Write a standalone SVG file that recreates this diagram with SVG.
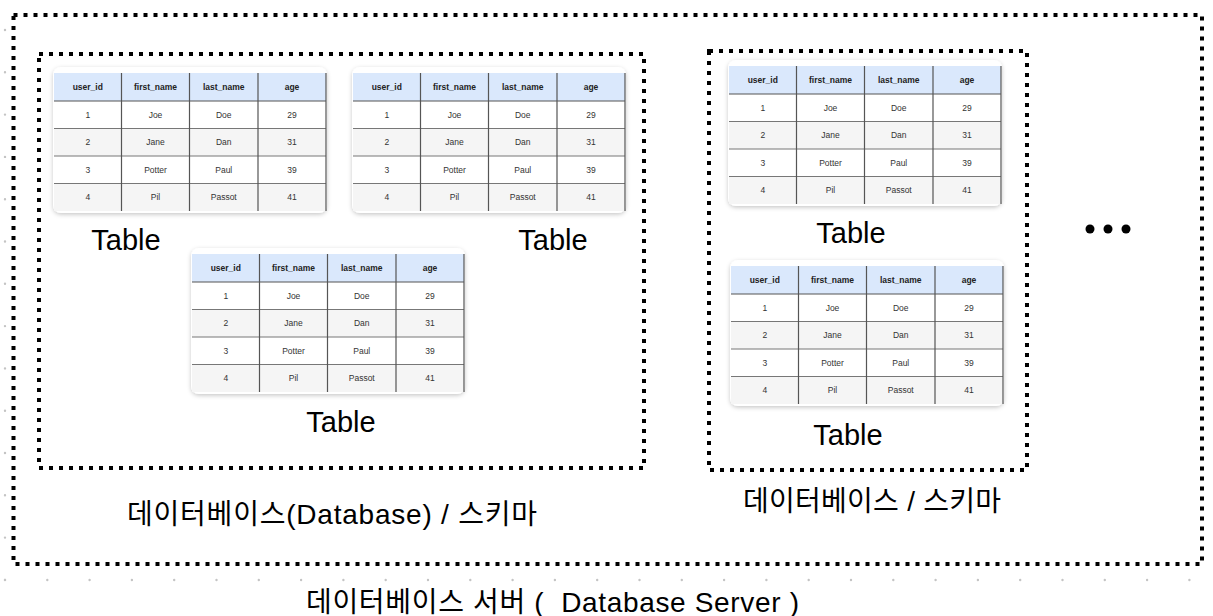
<svg xmlns="http://www.w3.org/2000/svg" width="1213" height="616" viewBox="0 0 1213 616">
<defs>
<filter id="sh" x="-10%" y="-15%" width="120%" height="135%">
<feDropShadow dx="0" dy="1.5" stdDeviation="2" flood-color="#000" flood-opacity="0.22"/>
</filter>
<style>
.grid-dot{fill:none;stroke:#c4c4c4;stroke-width:2.4;stroke-linecap:round;stroke-dasharray:0 42.3}
.box{fill:none;stroke:#000;stroke-width:4;stroke-dasharray:4 6}
.card{fill:#fff;filter:url(#sh)}
.hdr{fill:#dae8fc}
.alt{fill:#f5f5f5}
.gl{fill:none;stroke:#555;stroke-width:1.2}
.gr{fill:none;stroke:#777;stroke-width:1}
.h{font-family:"Liberation Sans",Arial,sans-serif;font-size:8.5px;font-weight:bold;fill:#222;text-anchor:middle}
.c{font-family:"Liberation Sans",Arial,sans-serif;font-size:8.5px;fill:#333;text-anchor:middle}
.lbl{font-family:"Liberation Sans",Arial,sans-serif;font-size:29px;fill:#000;text-anchor:middle}
.kr{font-family:"Liberation Sans","Noto Sans CJK KR",sans-serif;font-size:28px;fill:#000}
</style>
</defs>
<rect width="1213" height="616" fill="#fff"/>
<g id="background-grid">
<path class="grid-dot" d="M5 30V581"/>
<path class="grid-dot" d="M5 580H1213"/>
</g>
<g id="server">
<rect class="box" x="13.5" y="15" width="1188.5" height="549"/>
<text class="kr" x="306" y="612" textLength="493" xml:space="preserve">데이터베이스 서버 (  Database Server )</text>
</g>
<g id="database1">
<rect class="box" x="39" y="54" width="605" height="414"/>
<text class="kr" x="127" y="524" textLength="410">데이터베이스(Database) / 스키마</text>
</g>
<g id="database2">
<rect class="box" x="709" y="51" width="318" height="419"/>
<text class="kr" x="743" y="511" textLength="258">데이터베이스 / 스키마</text>
</g>

<g id="table1" transform="translate(54,73)">
<rect class="card" x="-1" y="-6" width="274" height="146" rx="8"/>
<rect class="hdr" x="0" y="0" width="272" height="28"/>
<rect class="alt" x="0" y="55.5" width="272" height="27.5"/>
<rect class="alt" x="0" y="110.5" width="272" height="27.5"/>
<path class="gr" d="M0 55.5H272M0 83H272M0 110.5H272"/>
<path class="gl" d="M0 28H272M67.5 0V138M135.5 0V138M204 0V138M272 0V138"/>
<text class="h" x="33.75" y="17">user_id</text><text class="h" x="101.5" y="17">first_name</text><text class="h" x="169.75" y="17">last_name</text><text class="h" x="238" y="17">age</text>
<text class="c" x="33.75" y="44.75">1</text><text class="c" x="101.5" y="44.75">Joe</text><text class="c" x="169.75" y="44.75">Doe</text><text class="c" x="238" y="44.75">29</text>
<text class="c" x="33.75" y="72.25">2</text><text class="c" x="101.5" y="72.25">Jane</text><text class="c" x="169.75" y="72.25">Dan</text><text class="c" x="238" y="72.25">31</text>
<text class="c" x="33.75" y="99.75">3</text><text class="c" x="101.5" y="99.75">Potter</text><text class="c" x="169.75" y="99.75">Paul</text><text class="c" x="238" y="99.75">39</text>
<text class="c" x="33.75" y="127.25">4</text><text class="c" x="101.5" y="127.25">Pil</text><text class="c" x="169.75" y="127.25">Passot</text><text class="c" x="238" y="127.25">41</text>
<text class="lbl" x="72" y="177">Table</text>
</g>

<g id="table2" transform="translate(353,73)">
<rect class="card" x="-1" y="-6" width="274" height="146" rx="8"/>
<rect class="hdr" x="0" y="0" width="272" height="28"/>
<rect class="alt" x="0" y="55.5" width="272" height="27.5"/>
<rect class="alt" x="0" y="110.5" width="272" height="27.5"/>
<path class="gr" d="M0 55.5H272M0 83H272M0 110.5H272"/>
<path class="gl" d="M0 28H272M67.5 0V138M135.5 0V138M204 0V138M272 0V138"/>
<text class="h" x="33.75" y="17">user_id</text><text class="h" x="101.5" y="17">first_name</text><text class="h" x="169.75" y="17">last_name</text><text class="h" x="238" y="17">age</text>
<text class="c" x="33.75" y="44.75">1</text><text class="c" x="101.5" y="44.75">Joe</text><text class="c" x="169.75" y="44.75">Doe</text><text class="c" x="238" y="44.75">29</text>
<text class="c" x="33.75" y="72.25">2</text><text class="c" x="101.5" y="72.25">Jane</text><text class="c" x="169.75" y="72.25">Dan</text><text class="c" x="238" y="72.25">31</text>
<text class="c" x="33.75" y="99.75">3</text><text class="c" x="101.5" y="99.75">Potter</text><text class="c" x="169.75" y="99.75">Paul</text><text class="c" x="238" y="99.75">39</text>
<text class="c" x="33.75" y="127.25">4</text><text class="c" x="101.5" y="127.25">Pil</text><text class="c" x="169.75" y="127.25">Passot</text><text class="c" x="238" y="127.25">41</text>
<text class="lbl" x="200" y="177">Table</text>
</g>

<g id="table3" transform="translate(192,254)">
<rect class="card" x="-1" y="-6" width="274" height="146" rx="8"/>
<rect class="hdr" x="0" y="0" width="272" height="28"/>
<rect class="alt" x="0" y="55.5" width="272" height="27.5"/>
<rect class="alt" x="0" y="110.5" width="272" height="27.5"/>
<path class="gr" d="M0 55.5H272M0 83H272M0 110.5H272"/>
<path class="gl" d="M0 28H272M67.5 0V138M135.5 0V138M204 0V138M272 0V138"/>
<text class="h" x="33.75" y="17">user_id</text><text class="h" x="101.5" y="17">first_name</text><text class="h" x="169.75" y="17">last_name</text><text class="h" x="238" y="17">age</text>
<text class="c" x="33.75" y="44.75">1</text><text class="c" x="101.5" y="44.75">Joe</text><text class="c" x="169.75" y="44.75">Doe</text><text class="c" x="238" y="44.75">29</text>
<text class="c" x="33.75" y="72.25">2</text><text class="c" x="101.5" y="72.25">Jane</text><text class="c" x="169.75" y="72.25">Dan</text><text class="c" x="238" y="72.25">31</text>
<text class="c" x="33.75" y="99.75">3</text><text class="c" x="101.5" y="99.75">Potter</text><text class="c" x="169.75" y="99.75">Paul</text><text class="c" x="238" y="99.75">39</text>
<text class="c" x="33.75" y="127.25">4</text><text class="c" x="101.5" y="127.25">Pil</text><text class="c" x="169.75" y="127.25">Passot</text><text class="c" x="238" y="127.25">41</text>
<text class="lbl" x="149" y="178">Table</text>
</g>

<g id="table4" transform="translate(729,66)">
<rect class="card" x="-1" y="-6" width="274" height="146" rx="8"/>
<rect class="hdr" x="0" y="0" width="272" height="28"/>
<rect class="alt" x="0" y="55.5" width="272" height="27.5"/>
<rect class="alt" x="0" y="110.5" width="272" height="27.5"/>
<path class="gr" d="M0 55.5H272M0 83H272M0 110.5H272"/>
<path class="gl" d="M0 28H272M67.5 0V138M135.5 0V138M204 0V138M272 0V138"/>
<text class="h" x="33.75" y="17">user_id</text><text class="h" x="101.5" y="17">first_name</text><text class="h" x="169.75" y="17">last_name</text><text class="h" x="238" y="17">age</text>
<text class="c" x="33.75" y="44.75">1</text><text class="c" x="101.5" y="44.75">Joe</text><text class="c" x="169.75" y="44.75">Doe</text><text class="c" x="238" y="44.75">29</text>
<text class="c" x="33.75" y="72.25">2</text><text class="c" x="101.5" y="72.25">Jane</text><text class="c" x="169.75" y="72.25">Dan</text><text class="c" x="238" y="72.25">31</text>
<text class="c" x="33.75" y="99.75">3</text><text class="c" x="101.5" y="99.75">Potter</text><text class="c" x="169.75" y="99.75">Paul</text><text class="c" x="238" y="99.75">39</text>
<text class="c" x="33.75" y="127.25">4</text><text class="c" x="101.5" y="127.25">Pil</text><text class="c" x="169.75" y="127.25">Passot</text><text class="c" x="238" y="127.25">41</text>
<text class="lbl" x="122" y="177">Table</text>
</g>

<g id="table5" transform="translate(731,266)">
<rect class="card" x="-1" y="-6" width="274" height="146" rx="8"/>
<rect class="hdr" x="0" y="0" width="272" height="28"/>
<rect class="alt" x="0" y="55.5" width="272" height="27.5"/>
<rect class="alt" x="0" y="110.5" width="272" height="27.5"/>
<path class="gr" d="M0 55.5H272M0 83H272M0 110.5H272"/>
<path class="gl" d="M0 28H272M67.5 0V138M135.5 0V138M204 0V138M272 0V138"/>
<text class="h" x="33.75" y="17">user_id</text><text class="h" x="101.5" y="17">first_name</text><text class="h" x="169.75" y="17">last_name</text><text class="h" x="238" y="17">age</text>
<text class="c" x="33.75" y="44.75">1</text><text class="c" x="101.5" y="44.75">Joe</text><text class="c" x="169.75" y="44.75">Doe</text><text class="c" x="238" y="44.75">29</text>
<text class="c" x="33.75" y="72.25">2</text><text class="c" x="101.5" y="72.25">Jane</text><text class="c" x="169.75" y="72.25">Dan</text><text class="c" x="238" y="72.25">31</text>
<text class="c" x="33.75" y="99.75">3</text><text class="c" x="101.5" y="99.75">Potter</text><text class="c" x="169.75" y="99.75">Paul</text><text class="c" x="238" y="99.75">39</text>
<text class="c" x="33.75" y="127.25">4</text><text class="c" x="101.5" y="127.25">Pil</text><text class="c" x="169.75" y="127.25">Passot</text><text class="c" x="238" y="127.25">41</text>
<text class="lbl" x="117" y="179">Table</text>
</g>

<g id="more">
<circle cx="1090" cy="229" r="4.5" fill="#000"/>
<circle cx="1108" cy="229" r="4.5" fill="#000"/>
<circle cx="1126" cy="229" r="4.5" fill="#000"/>
</g>
<g id="connectors"/>
</svg>
